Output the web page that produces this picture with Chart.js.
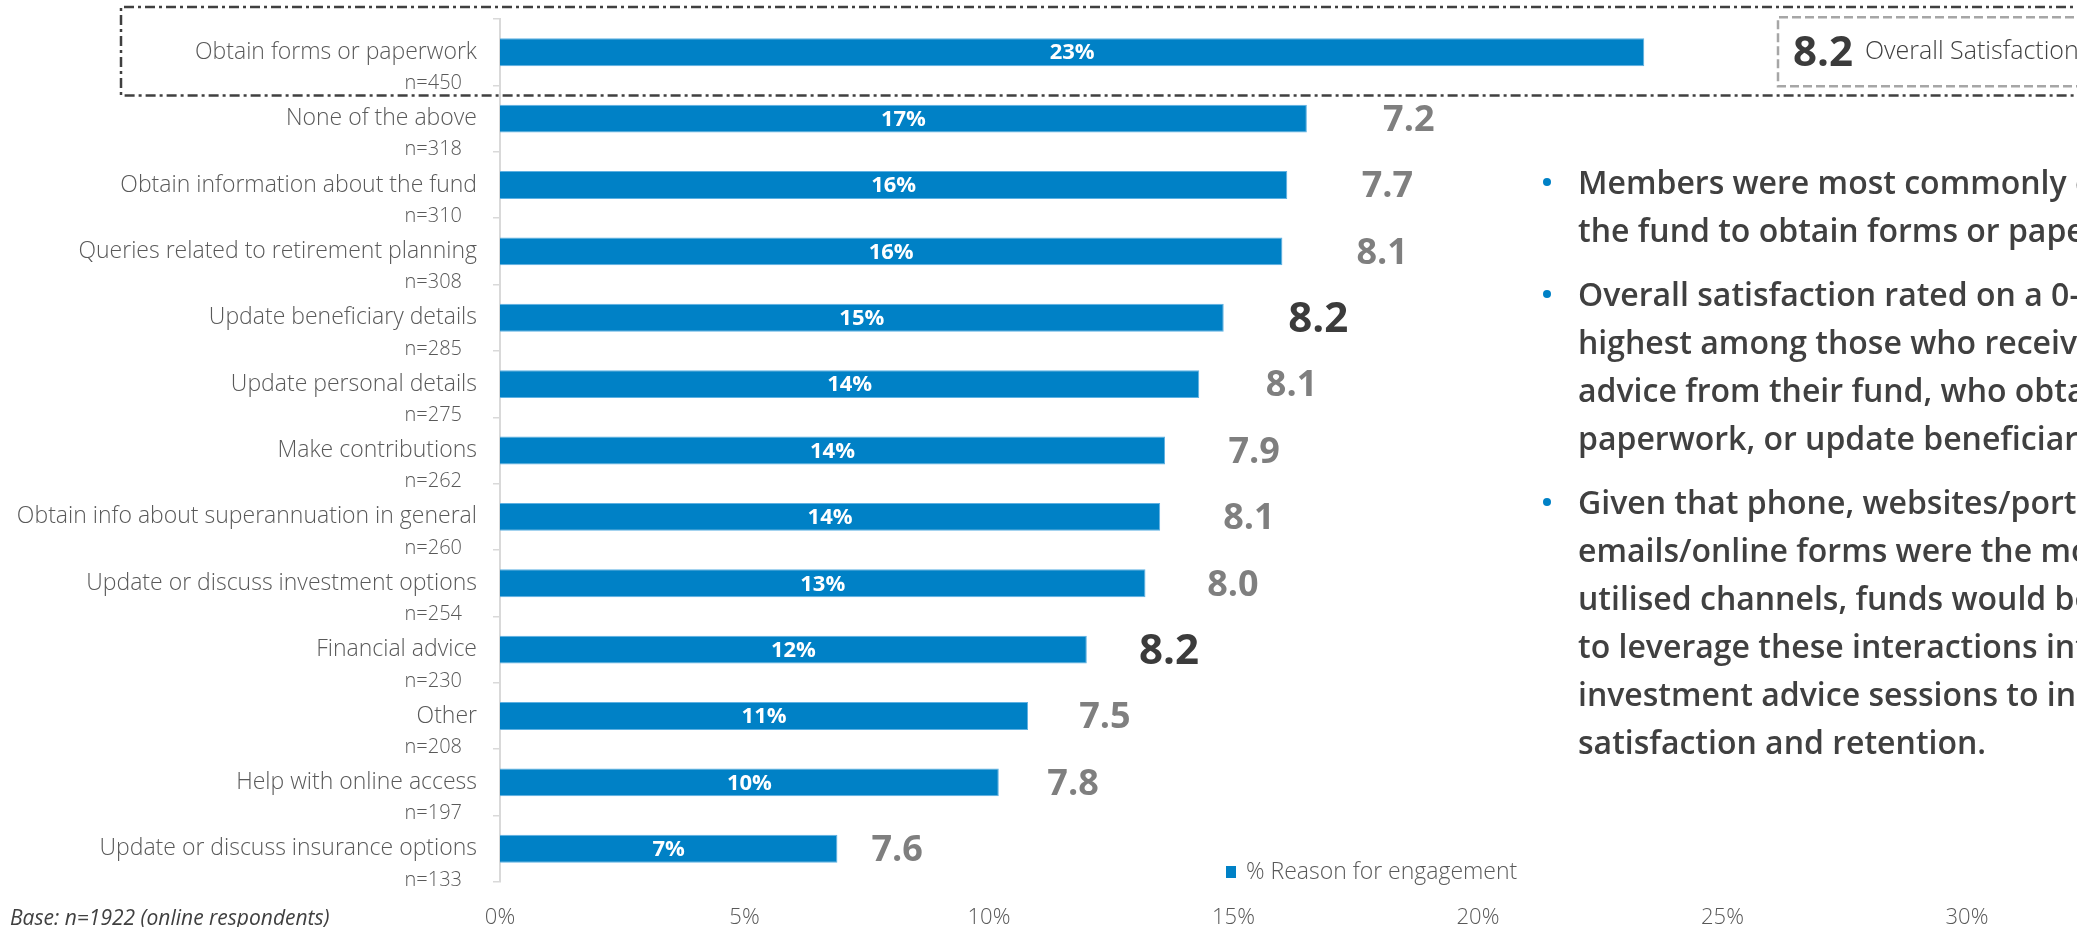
<!DOCTYPE html>
<html>
<head>
<meta charset="utf-8">
<title>Reason for engagement</title>
<script src="https://cdn.jsdelivr.net/npm/chart.js@4.4.1/dist/chart.umd.min.js"></script>
<style>
    html, body { margin: 0; padding: 0; background: #fff; }
    body { width: 2077px; height: 927px; overflow: hidden; position: relative; font-family: 'Open Sans', sans-serif; }
    #chart { position: absolute; left: 0; top: 0; }
    .notes { position: absolute; left: 1578px; top: 158px; color: #404040; font-size: 32px; font-weight: 600; line-height: 48px; white-space: nowrap; }
    .notes p { margin: 0 0 16px 0; position: relative; }
    .notes p::before { content: ''; position: absolute; left: -35px; top: 20px; width: 8px; height: 8px; border-radius: 50%; background: #0081c6; }
    .base { position: absolute; left: 10px; top: 903px; font-size: 21px; font-style: italic; color: #404040; line-height: 28px; white-space: nowrap; }
</style>
</head>
<body>
<canvas id="chart" width="2077" height="927"></canvas>

<div class="notes">
    <p>Members were most commonly contacting<br>the fund to obtain forms or paperwork.</p>
    <p>Overall satisfaction rated on a 0-10 scale was<br>highest among those who received financial<br>advice from their fund, who obtained forms or<br>paperwork, or update beneficiary details.</p>
    <p>Given that phone, websites/portals and<br>emails/online forms were the most<br>utilised channels, funds would be wise<br>to leverage these interactions into<br>investment advice sessions to increase<br>satisfaction and retention.</p>
</div>
<div class="base">Base: n=1922 (online respondents)</div>

<script>
const categories = [
    'Obtain forms or paperwork',
    'None of the above',
    'Obtain information about the fund',
    'Queries related to retirement planning',
    'Update beneficiary details',
    'Update personal details',
    'Make contributions',
    'Obtain info about superannuation in general',
    'Update or discuss investment options',
    'Financial advice',
    'Other',
    'Help with online access',
    'Update or discuss insurance options'
];
const sampleSizes = [450, 318, 310, 308, 285, 275, 262, 260, 254, 230, 208, 197, 133];
const engagement = [23.4, 16.5, 16.1, 16.0, 14.8, 14.3, 13.6, 13.5, 13.2, 12.0, 10.8, 10.2, 6.9];
const satisfaction = [8.2, 7.2, 7.7, 8.1, 8.2, 8.1, 7.9, 8.1, 8.0, 8.2, 7.5, 7.8, 7.6];
const seriesName = '% Reason for engagement';
const xTickMax = 30;
const xTickStep = 5;

const BLUE = '#0081c6';
const FONT = "'Open Sans', sans-serif";
Chart.defaults.font.family = FONT;

const topSat = Math.max(...satisfaction);

// labels, scores, n= texts, highlight boxes and the legend
const extras = {
    id: 'extras',
    afterDatasetsDraw(chart) {
        const ctx = chart.ctx;
        const area = chart.chartArea;
        const x = chart.scales.x;
        const y = chart.scales.y;
        const bars = chart.getDatasetMeta(0).data;
        const slot = (area.bottom - area.top) / categories.length;

        ctx.save();
        ctx.textBaseline = 'middle';

        bars.forEach((bar, i) => {
            const p = bar.getProps(['x', 'y', 'base'], true);

            // value in the bar
            ctx.fillStyle = '#ffffff';
            ctx.font = 'bold 22px ' + FONT;
            ctx.textAlign = 'center';
            ctx.fillText(Math.round(engagement[i]) + '%', (p.x + p.base) / 2, p.y + 1);

            // satisfaction score
            if (i > 0) {
                const hi = satisfaction[i] === topSat;
                ctx.fillStyle = hi ? '#3b3b3b' : '#7f7f7f';
                ctx.font = 'bold ' + (hi ? 42 : 36) + 'px ' + FONT;
                ctx.fillText(satisfaction[i].toFixed(1), x.getPixelForValue(engagement[i] * 1.09 + 0.6), p.y + 2);
            }

            // base size under the category
            ctx.fillStyle = '#595959';
            ctx.font = '300 20px ' + FONT;
            ctx.textAlign = 'right';
            ctx.fillText('n=' + sampleSizes[i], area.left - 38, p.y + slot / 2 - 2);
        });

        // dash-dot box round the first row
        const y0 = y.getPixelForValue(0);
        const boxTop = y0 - slot / 2 - 12;
        const boxBottom = y0 + slot / 2 + 10;
        ctx.strokeStyle = '#404040';
        ctx.lineWidth = 2.5;
        ctx.setLineDash([10, 4, 3, 4]);
        ctx.beginPath();
        ctx.moveTo(chart.width + 10, boxTop);
        ctx.lineTo(121, boxTop);
        ctx.lineTo(121, boxBottom);
        ctx.lineTo(chart.width + 10, boxBottom);
        ctx.stroke();

        // overall satisfaction box
        ctx.strokeStyle = '#a6a6a6';
        ctx.setLineDash([9, 4]);
        ctx.beginPath();
        ctx.moveTo(chart.width + 10, y0 - 35);
        ctx.lineTo(1778, y0 - 35);
        ctx.lineTo(1778, y0 + 34);
        ctx.lineTo(chart.width + 10, y0 + 34);
        ctx.stroke();
        ctx.setLineDash([]);

        ctx.textAlign = 'left';
        ctx.fillStyle = '#3b3b3b';
        ctx.font = 'bold 42px ' + FONT;
        ctx.fillText(satisfaction[0].toFixed(1), 1793, y0 + 2);
        ctx.fillStyle = '#404040';
        ctx.font = '300 25px ' + FONT;
        ctx.fillText('Overall Satisfaction', 1865, y0);

        // legend
        const lx = area.left + 726;
        const ly = area.bottom - 10;
        ctx.fillStyle = BLUE;
        ctx.fillRect(lx, ly - 6, 10, 12);
        ctx.fillStyle = '#595959';
        ctx.font = '300 23px ' + FONT;
        ctx.fillText(chart.data.datasets[0].label, lx + 20, ly);

        ctx.restore();
    }
};

new Chart(document.getElementById('chart'), {
    type: 'bar',
    data: {
        labels: categories,
        datasets: [{
            label: seriesName,
            data: engagement,
            backgroundColor: BLUE,
            borderColor: '#5fb1e2',
            borderWidth: 1,
            categoryPercentage: 1,
            barPercentage: 0.42
        }]
    },
    options: {
        indexAxis: 'y',
        responsive: false,
        animation: false,
        layout: { padding: { top: 19, right: 110, left: 0, bottom: 0 } },
        plugins: {
            legend: { display: false },
            tooltip: { enabled: false }
        },
        scales: {
            x: {
                min: 0,
                max: xTickMax,
                grid: { display: false, drawTicks: false },
                border: { display: false },
                ticks: {
                    stepSize: xTickStep,
                    padding: 23,
                    color: '#595959',
                    font: { size: 22, weight: 300 },
                    callback: v => v + '%'
                },
                afterFit: s => { s.height = 45; s.paddingLeft = 0; s.paddingRight = 0; }
            },
            y: {
                grid: { drawOnChartArea: false, tickLength: 7, color: '#d9d9d9', lineWidth: 1.5, offset: true },
                border: { display: true, color: '#d9d9d9', width: 2 },
                ticks: {
                    padding: 16,
                    color: '#595959',
                    font: { size: 23, weight: 300 }
                },
                afterFit: s => { s.width = 500; s.paddingTop = 0; s.paddingBottom = 0; }
            }
        }
    },
    plugins: [extras]
});
</script>
</body>
</html>
